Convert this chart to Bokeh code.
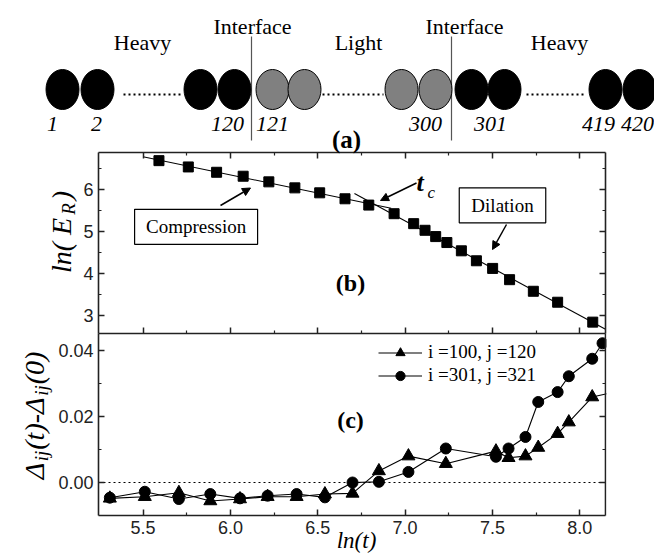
import numpy as np
from bokeh.plotting import figure
from bokeh.models import (Range1d, LinearAxis, FixedTicker, NumeralTickFormatter, Label, Arrow,
                          NormalHead, Legend, LegendItem, BoxAnnotation)
from bokeh.embed import file_html
from bokeh.resources import INLINE
from bokeh.core.properties import value

# ---------------- data ----------------
# (a) chain schematic (sketch layout, pixels)
chain_x = [62, 97, 200, 234, 272, 304, 401, 435, 471, 504, 605, 639]
chain_color = ["black"] * 4 + ["#808080"] * 4 + ["black"] * 4
site_labels = ["1", "2", "120", "121", "300", "301", "419", "420"]
site_label_x = [52, 96, 227, 272, 425, 490, 598, 637]
region_labels = ["Heavy", "Interface", "Light", "Interface", "Heavy"]
region_x = [142, 252, 358, 464, 559]
region_y = [42, 26, 42, 26, 42]
dots_x0 = [123, 322, 526]
dots_x1 = [180, 383, 586]
interface_x = [251, 451]

# (b) ln(E_R) vs ln(t)
lnt_b = [5.591, 5.759, 5.921, 6.073, 6.220, 6.369, 6.511, 6.656, 6.792, 6.937, 7.049,
         7.114, 7.175, 7.239, 7.322, 7.408, 7.501, 7.598, 7.734, 7.873, 8.074]
lnE_b = [6.687, 6.537, 6.410, 6.316, 6.182, 6.039, 5.921, 5.779, 5.629, 5.424, 5.187,
         5.029, 4.879, 4.737, 4.540, 4.303, 4.121, 3.853, 3.577, 3.316, 2.842]
n_tc = 8  # index of the t_c point

# (c) Delta_ij(t) - Delta_ij(0)
lnt_c_tri = [5.31, 5.51, 5.705, 5.885, 6.055, 6.213, 6.379, 6.541, 6.699, 6.850, 7.019,
             7.233, 7.520, 7.592, 7.689, 7.762, 7.873, 7.937, 8.071, 8.20]
d_100_120 = [-0.0048, -0.0043, -0.0031, -0.0056, -0.0050, -0.0043, -0.0043, -0.0035, -0.0033,
             0.0035, 0.0080, 0.0057, 0.0095, 0.0075, 0.0080, 0.0106, 0.0148, 0.0183, 0.0259, 0.0274]
lnt_c_cir = [5.31, 5.51, 5.705, 5.885, 6.055, 6.213, 6.379, 6.541, 6.699, 6.850, 7.019,
             7.233, 7.520, 7.592, 7.689, 7.762, 7.873, 7.937, 8.071, 8.13]
d_301_321 = [-0.0046, -0.0028, -0.0050, -0.0035, -0.0048, -0.0040, -0.0035, -0.0045, 0.0000,
             0.0002, 0.0032, 0.0103, 0.0078, 0.0103, 0.0138, 0.0244, 0.0274, 0.0322, 0.0375, 0.0422]

x_ticks = [5.5, 6.0, 6.5, 7.0, 7.5, 8.0]
x_minor = [5.75, 6.25, 6.75, 7.25, 7.75]
yb_ticks = [3, 4, 5, 6]
yb_minor = [3.5, 4.5, 5.5, 6.5]
yc_ticks = [0.0, 0.02, 0.04]
yc_minor = [0.01, 0.03]

# ---------------- geometry ----------------
W, H = 654, 556
FX0, FX1 = 98, 605            # frame box left/right (px)
XMIN, XMAX = 5.245, 8.147     # ln(t) at the box edges
PXU = (FX1 - FX0) / (XMAX - XMIN)
B_TOP, B_BOT, C_BOT = 152, 333, 515


def b_val(py):   # panel (b): 6 at 189 px, 42 px per unit
    return 6.0 + (189 - py) / 42.0


def c_val(py):   # panel (c): 0 at 482 px, 3300 px per unit
    return (482 - py) / 3300.0


AX = "#222222"
SERIF = "Liberation Serif"
SANS = "Liberation Sans"

p = figure(width=W, height=H, title=None,
           x_range=Range1d(XMIN - FX0 / PXU, XMIN + (W - FX0) / PXU),
           y_range=Range1d(c_val(H), c_val(0)),
           output_backend="svg", toolbar_location=None, min_border=0,
           x_axis_location=None, y_axis_location=None)
p.extra_y_ranges = {"b": Range1d(b_val(H), b_val(0)), "py": Range1d(H, 0)}
p.extra_x_ranges = {"px": Range1d(0, W)}
p.grid.visible = False
p.outline_line_color = None
PX = dict(x_range_name="px", y_range_name="py")

xb_bounds = (XMIN, XMAX)


def add_axis(side, ticks, minor, bounds, fixed, labels, fmt=None, yname="default"):
    ax = LinearAxis(ticker=FixedTicker(ticks=ticks, minor_ticks=minor), bounds=bounds,
                    fixed_location=fixed, y_range_name=yname)
    ax.major_tick_in = 6
    ax.major_tick_out = 0
    ax.minor_tick_in = 3
    ax.minor_tick_out = 0
    ax.axis_line_color = AX
    ax.axis_line_width = 1.6
    ax.major_tick_line_color = AX
    ax.minor_tick_line_color = AX
    ax.major_tick_line_width = 1.5
    ax.minor_tick_line_width = 1.2
    if labels:
        ax.major_label_text_font = SANS
        ax.major_label_text_font_size = "18px"
        ax.major_label_text_color = AX
        ax.major_label_standoff = 5
    else:
        ax.major_label_text_font_size = "0px"
        ax.major_label_text_alpha = 0
        ax.major_label_standoff = 0
    if fmt is not None:
        ax.formatter = NumeralTickFormatter(format=fmt)
    p.add_layout(ax, side)
    return ax


# panel (b) box
add_axis("left", yb_ticks, yb_minor, (b_val(B_BOT), b_val(B_TOP)), XMIN, True, "0", "b")
add_axis("right", yb_ticks, yb_minor, (b_val(B_BOT), b_val(B_TOP)), XMAX, False, None, "b")
add_axis("above", x_ticks, x_minor, xb_bounds, b_val(B_TOP), False, None, "b")
add_axis("below", x_ticks, x_minor, xb_bounds, b_val(B_BOT), False, None, "b")
# panel (c) box
add_axis("left", yc_ticks, yc_minor, (c_val(C_BOT), c_val(B_BOT)), XMIN, True, "0.00")
add_axis("right", yc_ticks, yc_minor, (c_val(C_BOT), c_val(B_BOT)), XMAX, False)
add_axis("below", x_ticks, x_minor, xb_bounds, c_val(C_BOT), True, "0.0")

# ---------------- panel (a) ----------------
p.segment(x0=interface_x, y0=36, x1=interface_x, y1=140, line_color="#555555", line_width=1.2, **PX)
p.segment(x0=dots_x0, y0=94, x1=dots_x1, y1=94, line_color="black", line_width=2, line_dash="2 3", **PX)
p.ellipse(x=chain_x, y=89, width=33, height=40, fill_color=chain_color, line_color="black",
          line_width=1, **PX)
p.text(x=region_x, y=region_y, text=region_labels, text_font=value(SERIF), text_font_size="22px",
       text_align="center", text_baseline="middle", text_color="black", **PX)
p.text(x=site_label_x, y=123, text=site_labels, text_font=value(SERIF), text_font_size="22px",
       text_font_style="italic", text_align="center", text_baseline="middle", text_color="black", **PX)
p.add_layout(Label(x=346, y=139, text="(a)", text_font=SERIF, text_font_size="25px",
                   text_font_style="bold", text_color="black", text_align="center",
                   text_baseline="middle", **PX))

# ---------------- panel (b) ----------------
xb = np.array(lnt_b)
yb = np.array(lnE_b)
cfit = np.polyfit(xb[:n_tc + 1], yb[:n_tc + 1], 1)
dfit = np.polyfit(xb[n_tc:], yb[n_tc:], 1)
cx = np.array([5.5, 6.92])
dx = np.array([6.71, XMAX])
p.line(cx, np.polyval(cfit, cx), line_color="black", line_width=1.1, y_range_name="b")
p.line(dx, np.polyval(dfit, dx), line_color="black", line_width=1.1, y_range_name="b")
p.scatter(lnt_b, lnE_b, marker="square", size=10, fill_color="black", line_color="black",
          y_range_name="b")

p.rect(x=[195.6, 502.0], y=[226.3, 204.8], width=[123, 86.5], height=35,
       fill_color="white", line_color="black", line_width=1.2, **PX)
p.text(x=[195.6, 502.0], y=[226.3, 204.8], text=["Compression", "Dilation"], text_font=value(SERIF),
       text_font_size="19px", text_align="center", text_baseline="middle", text_color="black", **PX)
for (x0, y0, x1, y1) in [(220, 205, 250, 187.5), (416, 182.5, 380, 200), (506, 224, 492, 249)]:
    p.add_layout(Arrow(end=NormalHead(size=8, fill_color="black", line_color="black"),
                       x_start=x0, y_start=y0, x_end=x1, y_end=y1, line_width=1.5,
                       line_color="black", **PX))
p.add_layout(Label(x=416, y=182, text="t", text_font=SERIF, text_font_size="26px",
                   text_font_style="bold italic", text_color="black", text_align="left",
                   text_baseline="alphabetic", **PX))
p.add_layout(Label(x=427, y=192, text="c", text_font=SERIF, text_font_size="17px",
                   text_font_style="italic", text_color="black", text_align="left",
                   text_baseline="alphabetic", **PX))
p.add_layout(Label(x=350, y=282, text="(b)", text_font=SERIF, text_font_size="24px",
                   text_font_style="bold", text_color="black", text_align="center",
                   text_baseline="middle", **PX))


def rotated_rich(cx, cy, pieces, gap=0.0):
    """pieces: (text, size_px, shift_down_px, width_em); text rotated 90 deg."""
    total = sum(w * s for _, s, _, w in pieces) + gap * (len(pieces) - 1)
    pos = -total / 2.0
    for t, s, shift, w in pieces:
        p.add_layout(Label(x=cx, y=cy, x_offset=shift, y_offset=pos, text=t, angle=np.pi / 2,
                           text_font=SERIF, text_font_size=f"{s}px", text_font_style="italic",
                           text_color="black", text_align="left", text_baseline="alphabetic", **PX))
        pos += w * s + gap


rotated_rich(61, 228, [("ln( E", 28, 0, 1.972), ("R", 19, 7, 0.611), (" )", 28, 0, 0.583)], gap=3)

# ---------------- panel (c) ----------------
p.segment(x0=[XMIN], y0=[0.0], x1=[XMAX], y1=[0.0], line_color="black", line_width=1, line_dash="2 3")
l1 = p.line(lnt_c_tri, d_100_120, line_color="black", line_width=1.1)
s1 = p.scatter(lnt_c_tri, d_100_120, marker="triangle", size=13, fill_color="black", line_color="black")
l2 = p.line(lnt_c_cir, d_301_321, line_color="black", line_width=1.1)
s2 = p.scatter(lnt_c_cir, d_301_321, marker="circle", size=11, fill_color="black", line_color="black")

# keep the data inside the box on the right-hand side
p.add_layout(BoxAnnotation(left=XMAX + 1.0 / PXU, bottom=c_val(C_BOT), top=c_val(B_BOT),
                           fill_color="white", fill_alpha=1.0, line_color=None))

leg = Legend(items=[LegendItem(label="i =100, j =120", renderers=[l1, s1]),
                    LegendItem(label="i =301, j =321", renderers=[l2, s2])],
             location=(378, H - 386.5), border_line_color=None, background_fill_alpha=0,
             padding=0, margin=0, spacing=0, glyph_width=44, glyph_height=23,
             label_height=23, label_standoff=6, label_text_font=SERIF,
             label_text_font_size="19px", label_text_color="black")
p.add_layout(leg)

p.add_layout(Label(x=350, y=419, text="(c)", text_font=SERIF, text_font_size="24px",
                   text_font_style="bold", text_color="black", text_align="center",
                   text_baseline="middle", **PX))
p.add_layout(Label(x=356, y=540, text="ln(t)", text_font=SERIF, text_font_size="23px",
                   text_font_style="italic", text_color="black", text_align="center",
                   text_baseline="alphabetic", **PX))
rotated_rich(34, 415, [("Δ", 28, 0, 0.61), ("ij", 19, 7, 0.556), ("(t)-Δ", 28, 0, 1.887),
                       ("ij", 19, 7, 0.556), ("(0)", 28, 0, 1.166)], gap=1)

open("out.html", "w").write(file_html(p, INLINE))
